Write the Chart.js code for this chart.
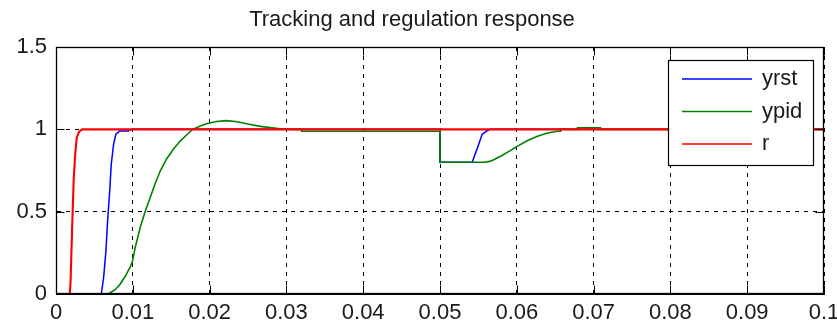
<!DOCTYPE html>
<html>
<head>
<meta charset="utf-8">
<title>Tracking and regulation response</title>
<script src="https://cdn.jsdelivr.net/npm/chart.js@4/dist/chart.umd.min.js"></script>
<style>
  html, body { margin: 0; padding: 0; background: #ffffff; }
  #wrap { width: 837px; height: 324px; position: relative; }
</style>
</head>
<body>
<div id="wrap"><canvas id="resp"></canvas></div>
<script>
// Time axis (s) and tick labels
const xTickValues = [0, 0.01, 0.02, 0.03, 0.04, 0.05, 0.06, 0.07, 0.08, 0.09, 0.1];
const xTickLabels = ['0', '0.01', '0.02', '0.03', '0.04', '0.05', '0.06', '0.07', '0.08', '0.09', '0.1'];
const yTickValues = [0, 0.5, 1, 1.5];
const yTickLabels = ['0', '0.5', '1', '1.5'];

const seriesNames = ['yrst', 'ypid', 'r'];

// RST controller output
const tYrst = [0, 0.0059, 0.0062, 0.0065, 0.0067, 0.0070, 0.0072, 0.0075, 0.0078, 0.0083, 0.0094, 0.0099,
               0.05, 0.05, 0.0542, 0.0545, 0.0549, 0.0552, 0.0555, 0.0561, 0.0565, 0.1];
const yYrst = [0, 0, 0.10, 0.26, 0.43, 0.63, 0.79, 0.91, 0.97, 0.99, 0.99, 1.0,
               1.0, 0.8, 0.8, 0.84, 0.89, 0.93, 0.97, 0.99, 1.0, 1.0];

// PID controller output
const tYpid = [0, 0.0068, 0.0070, 0.0077, 0.0083, 0.0090, 0.0097, 0.0100, 0.0103, 0.0110, 0.0116, 0.0123,
               0.0129, 0.0136, 0.0144, 0.0153, 0.0162, 0.0171, 0.0178, 0.0188, 0.0196, 0.0209, 0.0222,
               0.0236, 0.0248, 0.0266, 0.0292, 0.0300, 0.0320, 0.0320, 0.0500, 0.0500, 0.0559, 0.0566,
               0.0579, 0.0592, 0.0601, 0.0614, 0.0627, 0.0640, 0.0653, 0.0657, 0.0657, 0.0679, 0.0679,
               0.0709, 0.0709, 0.1];
const yYpid = [0, 0, 0.006, 0.026, 0.056, 0.106, 0.167, 0.207, 0.28, 0.41, 0.50, 0.59,
               0.67, 0.75, 0.82, 0.88, 0.93, 0.97, 1.0, 1.02, 1.034, 1.048, 1.053,
               1.046, 1.034, 1.018, 1.004, 1.0, 1.0, 0.988, 0.988, 0.8, 0.8, 0.807,
               0.837, 0.872, 0.898, 0.932, 0.958, 0.978, 0.988, 0.988, 1.0, 1.0, 1.01,
               1.01, 1.0, 1.0];

// Filtered reference
const tR = [0, 0.0018, 0.0019, 0.0021, 0.0023, 0.0025, 0.0027, 0.0030, 0.0034, 0.1];
const yR = [0, 0, 0.08, 0.40, 0.69, 0.85, 0.95, 0.985, 1.0, 1.0];

const lineColors = ['#0000ff', '#008000', '#ff0000'];
const lineWidths = [1.5, 1.6, 2.1];
const FONT = '"Liberation Sans", Arial, Helvetica, sans-serif';

const toPoints = (ts, ys) => ts.map((t, i) => ({ x: t, y: ys[i] }));

// Axes box with inward tick marks on all four sides
const boxPlugin = {
  id: 'axesBox',
  afterDatasetsDraw(chart) {
    const { ctx, chartArea: a, scales } = chart;
    const L = Math.round(a.left) + 0.5, R = Math.round(a.right) - 0.5;
    const T = Math.round(a.top) + 0.5, B = Math.round(a.bottom) - 0.5;
    const tick = 8;
    ctx.save();
    ctx.strokeStyle = '#000';
    ctx.lineWidth = 1;
    ctx.setLineDash([]);
    ctx.beginPath();
    xTickValues.forEach(v => {
      const px = Math.round(scales.x.getPixelForValue(v)) + 0.5;
      ctx.moveTo(px, B); ctx.lineTo(px, B - tick);
      ctx.moveTo(px, T); ctx.lineTo(px, T + tick);
    });
    yTickValues.forEach(v => {
      const py = Math.round(scales.y.getPixelForValue(v)) + 0.5;
      ctx.moveTo(L, py); ctx.lineTo(L + tick, py);
      ctx.moveTo(R, py); ctx.lineTo(R - tick, py);
    });
    ctx.stroke();
    ctx.lineWidth = 1.3;
    ctx.strokeRect(L, T, R - L, B - T);
    ctx.restore();
  }
};

// Legend box drawn inside the axes, upper right
const legendPlugin = {
  id: 'insetLegend',
  afterDraw(chart) {
    const { ctx } = chart;
    const x0 = 668.5, y0 = 60.5, w = 145, h = 105;
    ctx.save();
    ctx.fillStyle = '#fff';
    ctx.fillRect(x0, y0, w, h);
    ctx.strokeStyle = '#000';
    ctx.lineWidth = 1.2;
    ctx.strokeRect(x0, y0, w, h);
    ctx.font = '22px ' + FONT;
    ctx.textBaseline = 'middle';
    ctx.textAlign = 'left';
    chart.data.datasets.forEach((ds, i) => {
      const y = 79 + i * 32.5;
      ctx.strokeStyle = ds.borderColor;
      ctx.lineWidth = 1.6;
      ctx.beginPath();
      ctx.moveTo(682, y); ctx.lineTo(752, y);
      ctx.stroke();
      ctx.fillStyle = '#1a1a1a';
      ctx.fillText(ds.label, 762, y);
    });
    ctx.restore();
  }
};

new Chart(document.getElementById('resp'), {
  type: 'line',
  data: {
    datasets: [
      { label: seriesNames[0], data: toPoints(tYrst, yYrst), borderColor: lineColors[0], borderWidth: lineWidths[0], order: 2 },
      { label: seriesNames[1], data: toPoints(tYpid, yYpid), borderColor: lineColors[1], borderWidth: lineWidths[1], order: 1 },
      { label: seriesNames[2], data: toPoints(tR, yR), borderColor: lineColors[2], borderWidth: lineWidths[2], order: 0 }
    ]
  },
  options: {
    responsive: true,
    maintainAspectRatio: false,
    animation: false,
    parsing: false,
    layout: { padding: { left: 0, right: 13, top: 0, bottom: 0 } },
    elements: {
      point: { radius: 0, hoverRadius: 0 },
      line: { tension: 0, fill: false }
    },
    plugins: {
      legend: { display: false },
      tooltip: { enabled: false },
      title: {
        display: true,
        text: 'Tracking and regulation response',
        color: '#1a1a1a',
        font: { family: FONT, size: 22, weight: 'normal', lineHeight: 1.2 },
        padding: { top: 7, bottom: 13.6 }
      }
    },
    scales: {
      x: {
        type: 'linear',
        min: 0, max: 0.1,
        afterBuildTicks: s => { s.ticks = xTickValues.map(v => ({ value: v })); },
        afterFit: s => { s.height = 30; s.paddingLeft = 0; s.paddingRight = 0; },
        ticks: {
          autoSkip: false, maxRotation: 0, padding: 6, color: '#1a1a1a',
          font: { family: FONT, size: 22 },
          callback: (v, i) => xTickLabels[i]
        },
        grid: { color: '#000', lineWidth: 1, drawTicks: false },
        border: { display: true, color: '#000', width: 1, dash: [4, 5] }
      },
      y: {
        type: 'linear',
        min: 0, max: 1.5,
        afterBuildTicks: s => { s.ticks = yTickValues.map(v => ({ value: v })); },
        afterFit: s => { s.width = 56; s.paddingTop = 0; s.paddingBottom = 0; },
        ticks: {
          autoSkip: false, padding: 9, color: '#1a1a1a',
          font: { family: FONT, size: 22 },
          callback: (v, i) => yTickLabels[i]
        },
        grid: { color: '#000', lineWidth: 1, drawTicks: false },
        border: { display: true, color: '#000', width: 1, dash: [4, 5] }
      }
    }
  },
  plugins: [boxPlugin, legendPlugin]
});
</script>
</body>
</html>
